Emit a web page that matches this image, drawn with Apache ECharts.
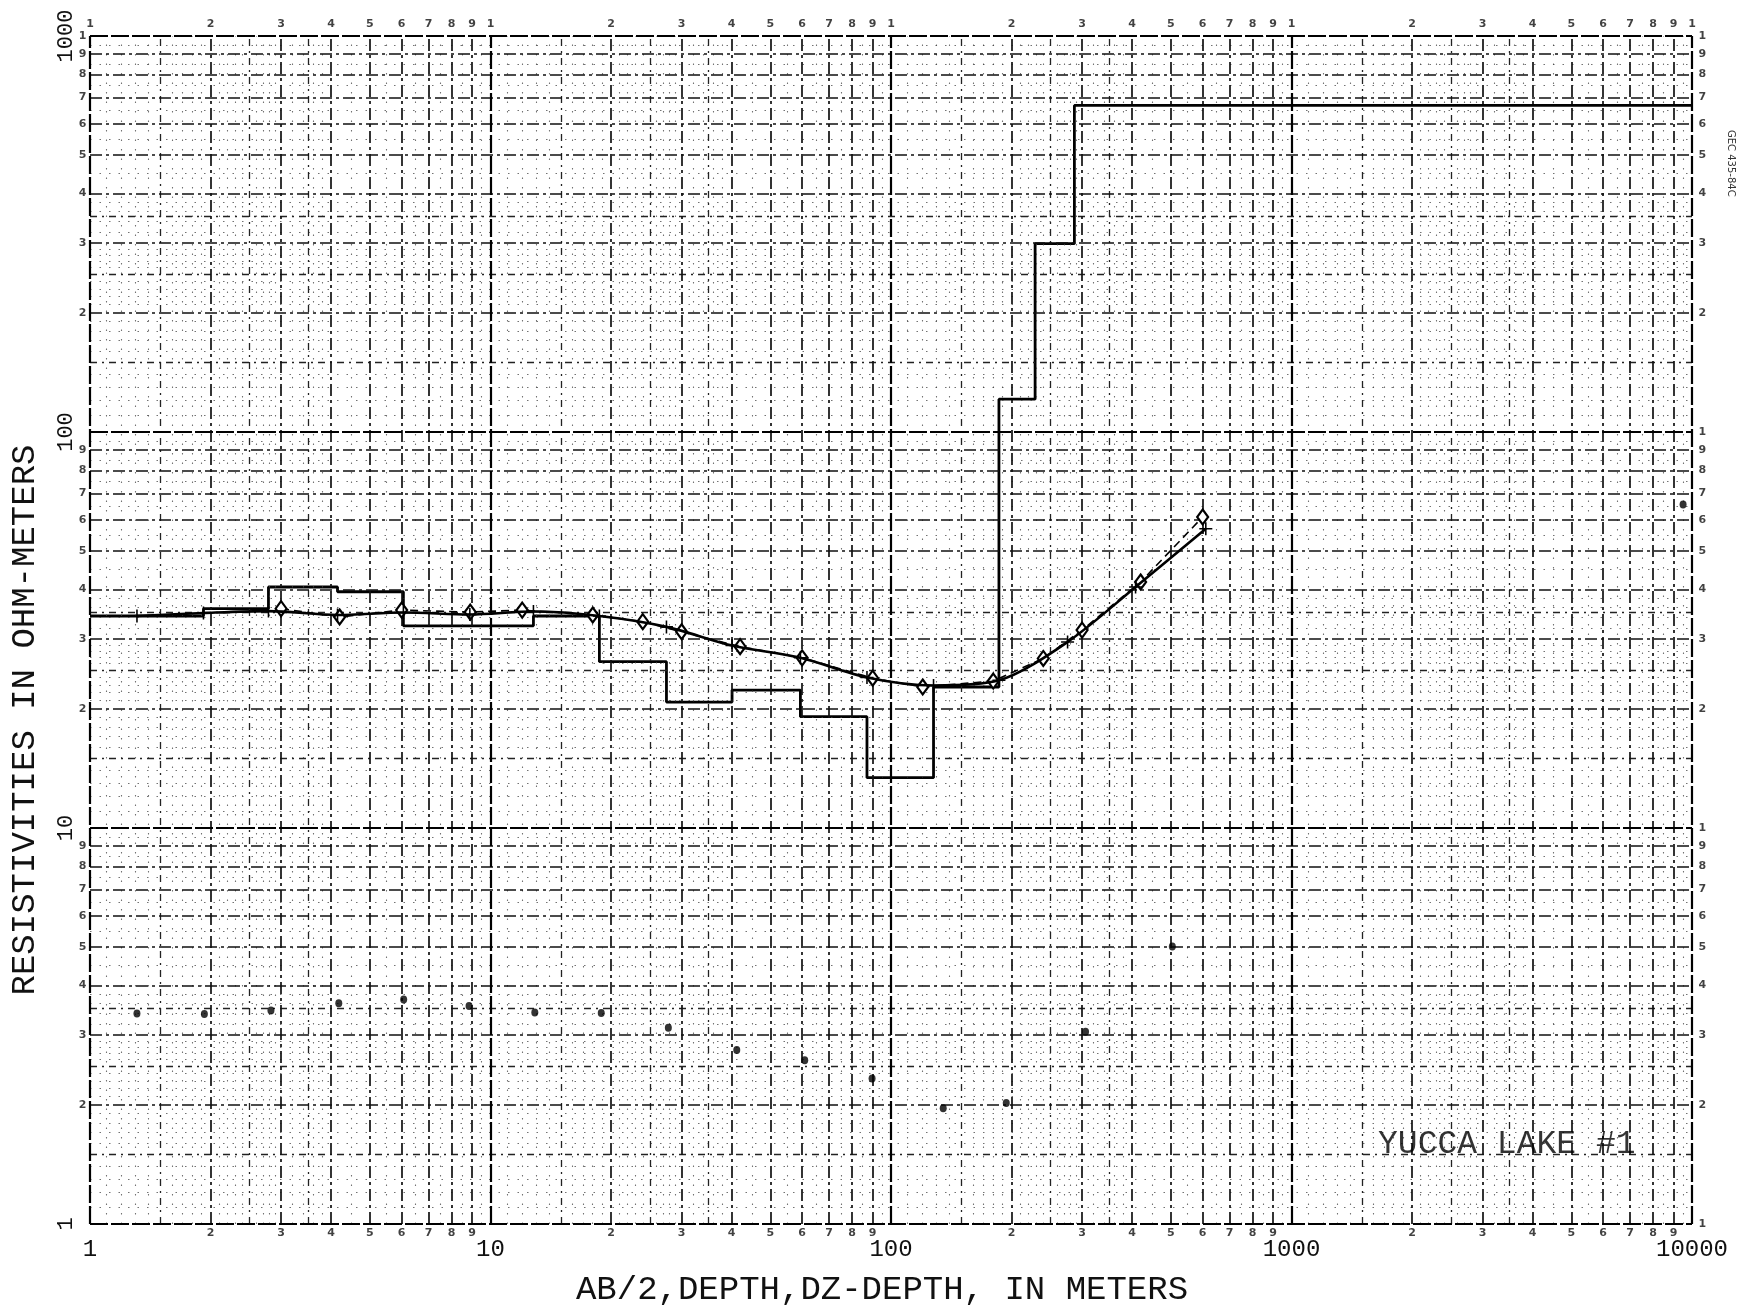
<!DOCTYPE html>
<html>
<head>
<meta charset="utf-8">
<script src="https://cdn.jsdelivr.net/npm/echarts@6/dist/echarts.min.js"></script>
<style>html,body{margin:0;padding:0;background:#fff;}#c{width:1748px;height:1312px;}</style>
</head>
<body>
<div id="c"></div>
<script>
// ---- data ----
const xDecades = [1, 10, 100, 1000];
const yDecades = [1, 10, 100];
const minorDigits = [2, 3, 4, 5, 6, 7, 8, 9];
const halfFactors = [1.5, 2.5, 3.5];
const fineFactors = [1.1,1.2,1.3,1.4,1.6,1.7,1.8,1.9,2.1,2.2,2.3,2.4,2.6,2.7,2.8,2.9,3.2,3.4,3.6,3.8,4.5,5.5,6.5,7.5,8.5,9.5];
const xTickLabels = { 1: '1', 10: '10', 100: '100', 1000: '1000', 10000: '10000' };
const yTickLabels = { 1: '1', 10: '10', 100: '100', 1000: '1000' };

// layered model (step): boundaries (m) and layer resistivities (ohm-m)
const modelBoundary = [1.92, 2.79, 4.15, 6.06, 12.8, 18.7, 27.5, 40.1, 59.4, 87.1, 127.7, 186, 229, 287];
const modelRho = [34.3, 35.8, 40.6, 39.5, 32.4, 34.3, 26.3, 20.8, 22.3, 19.1, 13.4, 22.7, 121, 299, 668];

// observed apparent resistivity (diamonds)
const obsAB = [3, 4.2, 6, 8.9, 12, 18, 24, 30, 42, 60, 90, 120, 180, 240, 300, 420, 600];
const obsRho = [35.8, 34.1, 35.5, 35.1, 35.5, 34.5, 33.2, 31.3, 28.7, 26.9, 23.9, 22.7, 23.5, 26.8, 31.6, 41.8, 61.0];

// computed curve (+)
const calcAB = [1.31, 1.92, 2.79, 4.15, 6.06, 8.88, 12.8, 18.7, 27.5, 40.1, 59.4, 87.1, 127.7, 186, 276, 408, 611];
const calcRho = [34.3, 34.9, 35.3, 34.5, 35.0, 34.6, 35.2, 34.3, 32.2, 28.9, 26.9, 24.0, 22.9, 23.6, 29.5, 40.6, 57.0];

// DZ-depth dots
const dzDepth = [1.31, 1.93, 2.83, 4.18, 6.07, 8.84, 12.9, 18.9, 27.8, 41.2, 60.9, 89.7, 135, 194, 306, 504, 9500];
const dzRho = [3.40, 3.39, 3.46, 3.61, 3.69, 3.55, 3.42, 3.41, 3.13, 2.75, 2.59, 2.33, 1.96, 2.02, 3.06, 5.02, 65.6];

const chartLabel = 'YUCCA LAKE #1';
const labelAnchor = [1640, 1.59];
const xMin = 1, xMax = 10000, yMin = 1, yMax = 1000;

// ---- build ----
const modelData = [[xMin, modelRho[0]]];
modelBoundary.forEach((b, i) => modelData.push([b, modelRho[i + 1]]));
modelData.push([xMax, modelRho[modelRho.length - 1]]);

const zip = (a, b) => a.map((v, i) => [v, b[i]]);

const majX = xDecades.concat([xMax]);
const majY = yDecades.concat([yMax]);
const intX = xDecades.flatMap(d => minorDigits.map(m => m * d));
const intY = yDecades.flatMap(d => minorDigits.map(m => m * d));
const halfX = xDecades.flatMap(d => halfFactors.map(m => m * d));
const halfY = yDecades.flatMap(d => halfFactors.map(m => m * d));
const fineX = xDecades.flatMap(d => fineFactors.map(m => m * d));
const fineY = yDecades.flatMap(d => fineFactors.map(m => m * d));

function gridSeries(xs, ys, style, z) {
  return {
    type: 'line', data: [], z: z, silent: true, animation: false,
    markLine: {
      silent: true, animation: false, symbol: ['none', 'none'], label: { show: false },
      lineStyle: style,
      emphasis: { disabled: true },
      data: xs.map(v => ({ xAxis: v })).concat(ys.map(v => ({ yAxis: v })))
    }
  };
}

const digitFont = { fontSize: 11, fontWeight: 'bold', color: '#111', fontFamily: 'DejaVu Sans' };
const topDigits = [];
xDecades.forEach(d => { [1].concat(minorDigits).forEach(m => topDigits.push({ value: [m * d, yMax], label: { formatter: String(m) } })); });
topDigits.push({ value: [xMax, yMax], label: { formatter: '1' } });
const rightDigits = [];
yDecades.forEach(d => { [1].concat(minorDigits).forEach(m => rightDigits.push({ value: [xMax, m * d], label: { formatter: String(m) } })); });
rightDigits.push({ value: [xMax, yMax], label: { formatter: '1' } });
const bottomDigits = [];
xDecades.forEach(d => { minorDigits.forEach(m => bottomDigits.push({ value: [m * d, yMin], label: { formatter: String(m) } })); });
const leftDigits = [];
yDecades.forEach(d => { minorDigits.forEach(m => leftDigits.push({ value: [xMin, m * d], label: { formatter: String(m) } })); });
leftDigits.push({ value: [xMin, yMax], label: { formatter: '1' } });

function digitSeries(data, pos, dist) {
  return {
    type: 'scatter', data: data, symbolSize: 1, clip: false, silent: true, z: 5,
    itemStyle: { color: 'transparent' },
    label: Object.assign({ show: true, position: pos, distance: dist }, digitFont)
  };
}

const plusPath = 'path://M-1,-0.12 L-0.12,-0.12 L-0.12,-1 L0.12,-1 L0.12,-0.12 L1,-0.12 L1,0.12 L0.12,0.12 L0.12,1 L-0.12,1 L-0.12,0.12 L-1,0.12 Z';

const chart = echarts.init(document.getElementById('c'), null, { renderer: 'canvas' });
chart.setOption({
  backgroundColor: '#ffffff',
  animation: false,
  grid: { left: 88, right: 56, top: 36, bottom: 85 },
  xAxis: {
    type: 'log', logBase: 10, min: xMin, max: xMax,
    axisLine: { show: false }, axisTick: { show: false }, splitLine: { show: false },
    axisLabel: { fontSize: 24, fontFamily: 'Liberation Mono', color: '#111', margin: 14,
      formatter: v => xTickLabels[Math.round(v)] || String(Math.round(v)) },
    name: 'AB/2,DEPTH,DZ-DEPTH, IN METERS', nameLocation: 'middle', nameGap: 49,
    nameTextStyle: { fontSize: 34, fontFamily: 'Liberation Mono', color: '#111', padding: [0, 18, 0, 0] }
  },
  yAxis: {
    type: 'log', logBase: 10, min: yMin, max: yMax,
    axisLine: { show: false }, axisTick: { show: false }, splitLine: { show: false },
    axisLabel: { fontSize: 22, fontFamily: 'Liberation Mono', color: '#111', rotate: 90, margin: 13,
      formatter: v => yTickLabels[Math.round(v)] || String(Math.round(v)) },
    name: 'RESISTIVITIES IN OHM-METERS', nameLocation: 'middle', nameGap: 48,
    nameTextStyle: { fontSize: 34, fontFamily: 'Liberation Mono', color: '#111', padding: [0, 180, 0, 0] }
  },
  graphic: [{
    type: 'text', x: 1736, y: 130, rotation: -Math.PI / 2,
    style: { text: 'GEC 435-84C', fontSize: 10, fontFamily: 'DejaVu Sans', fill: '#333' }
  }],
  series: [
    gridSeries(fineX, fineY, { color: '#444', width: 1.1, type: [1.5, 8], opacity: 0.75 }, 1),
    gridSeries(halfX, halfY, { color: '#222', width: 1.3, type: [7, 5, 2, 5] }, 1),
    gridSeries(intX, intY, { color: '#111', width: 1.7, type: [12, 4, 3, 4] }, 2),
    gridSeries(majX, majY, { color: '#000', width: 2.2, type: [18, 3] }, 2),
    {
      type: 'line', name: 'model', data: modelData, step: 'end', symbol: 'none', z: 4,
      lineStyle: { color: '#000', width: 2.8 }
    },
    {
      type: 'line', name: 'observed', data: zip(obsAB, obsRho), symbol: 'diamond', symbolSize: [11, 15], z: 5,
      lineStyle: { color: '#000', width: 1.6, type: [8, 5] },
      itemStyle: { color: '#fff', borderColor: '#000', borderWidth: 2.2 }
    },
    {
      type: 'line', name: 'computed', data: zip(calcAB, calcRho), smooth: 0.3, symbol: plusPath, symbolSize: 13, z: 6,
      lineStyle: { color: '#000', width: 2.6 },
      itemStyle: { color: '#000' }
    },
    {
      type: 'scatter', name: 'dz', data: zip(dzDepth, dzRho), symbol: 'circle', symbolSize: [7, 8], z: 6,
      itemStyle: { color: '#000' }
    },
    digitSeries(topDigits, 'top', 6),
    digitSeries(rightDigits, 'right', 6),
    digitSeries(bottomDigits, 'bottom', 3),
    digitSeries(leftDigits, 'left', 3),
    {
      type: 'scatter', data: [{ value: labelAnchor }], symbolSize: 1, silent: true, z: 7,
      itemStyle: { color: 'transparent' },
      label: { show: true, position: 'right', distance: 0, formatter: chartLabel, fontSize: 33, fontFamily: 'Liberation Mono', color: '#000' }
    }
  ]
});
</script>
</body>
</html>
